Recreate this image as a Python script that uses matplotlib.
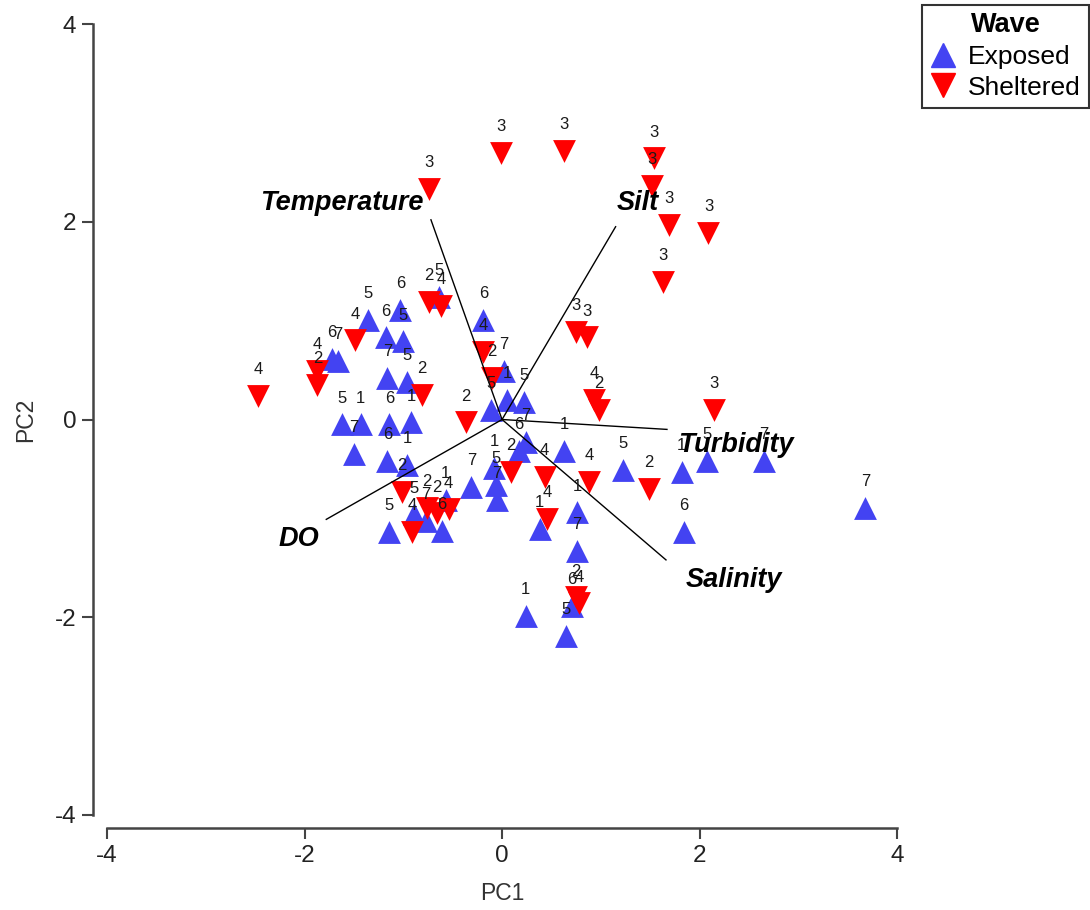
import matplotlib.pyplot as plt
from matplotlib.lines import Line2D

plt.rcParams['font.family'] = ['Liberation Sans', 'DejaVu Sans']
plt.rcParams['axes.unicode_minus'] = False

# PCA scores, exposed sites
exp_pc1 = [-1.72, -1.66, -1.36, -1.18, -1.03, -1.00, -1.16, -0.96, -1.62, -1.43,
           -1.14, -0.92, -1.50, -1.16, -0.96, -0.64, -0.19, 0.02, 0.22, -0.11,
           0.05, 0.24, 0.17, -0.08, -0.06, -0.05, -0.31, 0.63, 0.38, 0.76,
           0.76, 0.24, 0.71, 0.65, 1.22, 1.82, 2.08, 2.65, 1.84, 3.68,
           -0.57, -0.89, -0.77, -0.61, -1.14]
exp_pc2 = [0.61, 0.59, 1.01, 0.83, 1.11, 0.79, 0.42, 0.38, -0.05, -0.05,
           -0.05, -0.03, -0.35, -0.42, -0.46, 1.24, 1.01, 0.49, 0.18, 0.10,
           0.20, -0.23, -0.32, -0.49, -0.66, -0.81, -0.68, -0.32, -1.11, -0.94,
           -1.33, -1.99, -1.89, -2.19, -0.51, -0.53, -0.42, -0.42, -1.14, -0.89,
           -0.81, -0.96, -1.03, -1.13, -1.14]
exp_site = ['6', '7', '5', '6', '6', '5', '7', '5', '5', '1',
            '6', '1', '7', '6', '1', '5', '6', '7', '5', '5',
            '1', '7', '6', '1', '5', '7', '7', '1', '1', '1',
            '7', '1', '6', '5', '5', '1', '5', '7', '6', '7',
            '1', '5', '7', '6', '5']

# PCA scores, sheltered sites
shel_pc1 = [-2.47, -1.87, -1.87, -1.49, -0.81, -0.74, -0.74, -0.62, -0.01, 0.63,
            1.54, 1.52, 1.69, 2.09, 1.63, 0.75, 0.86, 0.93, 0.98, 2.15,
            -0.19, -0.10, -0.37, 0.09, 0.43, 0.88, 0.46, 1.49, 0.75, 0.78,
            -1.01, -0.76, -0.66, -0.54, -0.91]
shel_pc2 = [0.24, 0.49, 0.35, 0.80, 0.25, 2.33, 1.19, 1.15, 2.70, 2.72,
            2.64, 2.36, 1.97, 1.89, 1.39, 0.89, 0.83, 0.20, 0.10, 0.10,
            0.68, 0.42, -0.03, -0.53, -0.58, -0.63, -1.01, -0.70, -1.80, -1.86,
            -0.73, -0.89, -0.95, -0.91, -1.14]
shel_site = ['4', '4', '2', '4', '2', '3', '2', '4', '3', '3',
             '3', '3', '3', '3', '3', '3', '3', '4', '2', '3',
             '4', '2', '2', '2', '4', '4', '4', '2', '2', '4',
             '2', '2', '2', '4', '4']

# loadings of the environmental variables
var_names = ['Temperature', 'Silt', 'Turbidity', 'Salinity', 'DO']
var_pc1 = [-0.72, 1.15, 1.67, 1.66, -1.78]
var_pc2 = [2.02, 1.95, -0.10, -1.42, -1.01]

fig = plt.figure(figsize=(10.9, 9.1), dpi=100)
ax = fig.add_axes([0.0982, 0.1044, 0.7248, 0.8692])

blue = '#4343F2'
red = '#FF0000'

for i in range(len(var_names)):
    ax.plot([0, var_pc1[i]], [0, var_pc2[i]], color='black', lw=1.0, zorder=3)

ax.scatter(exp_pc1, exp_pc2, marker='^', s=270, color=blue, lw=0, zorder=2)
ax.scatter(shel_pc1, shel_pc2, marker='v', s=270, color=red, lw=0, zorder=2)

for x, y, s in zip(exp_pc1 + shel_pc1, exp_pc2 + shel_pc2, exp_site + shel_site):
    ax.annotate(s, (x, y), xytext=(0, 19), textcoords='offset points',
                ha='center', va='center', fontsize=12, color='#1a1a1a', zorder=4)

# variable names at the tips of the loading lines
lab_pos = [(-0.79, 2.19, 'right'), (1.37, 2.19, 'center'), (2.37, -0.26, 'center'),
           (2.35, -1.62, 'center'), (-2.06, -1.21, 'center')]
for name, (x, y, ha) in zip(var_names, lab_pos):
    ax.text(x, y, name, ha=ha, va='center', fontsize=19.5, fontweight='bold',
            fontstyle='italic', color='black', zorder=5)

ax.set_xlim(-4, 4)
ax.set_ylim(-4, 4)
ax.set_xticks([-4, -2, 0, 2, 4])
ax.set_yticks([-4, -2, 0, 2, 4])
for side in ['top', 'right']:
    ax.spines[side].set_visible(False)
ax.spines['left'].set_position(('outward', 10))
ax.spines['bottom'].set_position(('outward', 9.4))
for side in ['left', 'bottom']:
    ax.spines[side].set_color('#444444')
    ax.spines[side].set_linewidth(1.8)
ax.tick_params(direction='out', length=8, width=1.5, color='#444444',
               labelsize=17.5, labelcolor='#222222', pad=4)
ax.set_xlabel('PC1', fontsize=16.5, color='#333333', labelpad=11)
ax.set_ylabel('PC2', fontsize=16.5, color='#333333', labelpad=13)

handles = [Line2D([], [], marker='^', ls='', color=blue, markersize=17),
           Line2D([], [], marker='v', ls='', color=red, markersize=17)]
leg = fig.legend(handles, ['Exposed', 'Sheltered'], title='Wave', loc='upper left',
                 bbox_to_anchor=(0.846, 0.995), fontsize=19, title_fontsize=19.5,
                 fancybox=False, edgecolor='black', handlelength=1.0,
                 handletextpad=0.45, borderpad=0.3, labelspacing=0.25, borderaxespad=0)
leg.get_title().set_fontweight('bold')
leg.get_frame().set_linewidth(1.5)

plt.savefig('out.png', dpi=100)
